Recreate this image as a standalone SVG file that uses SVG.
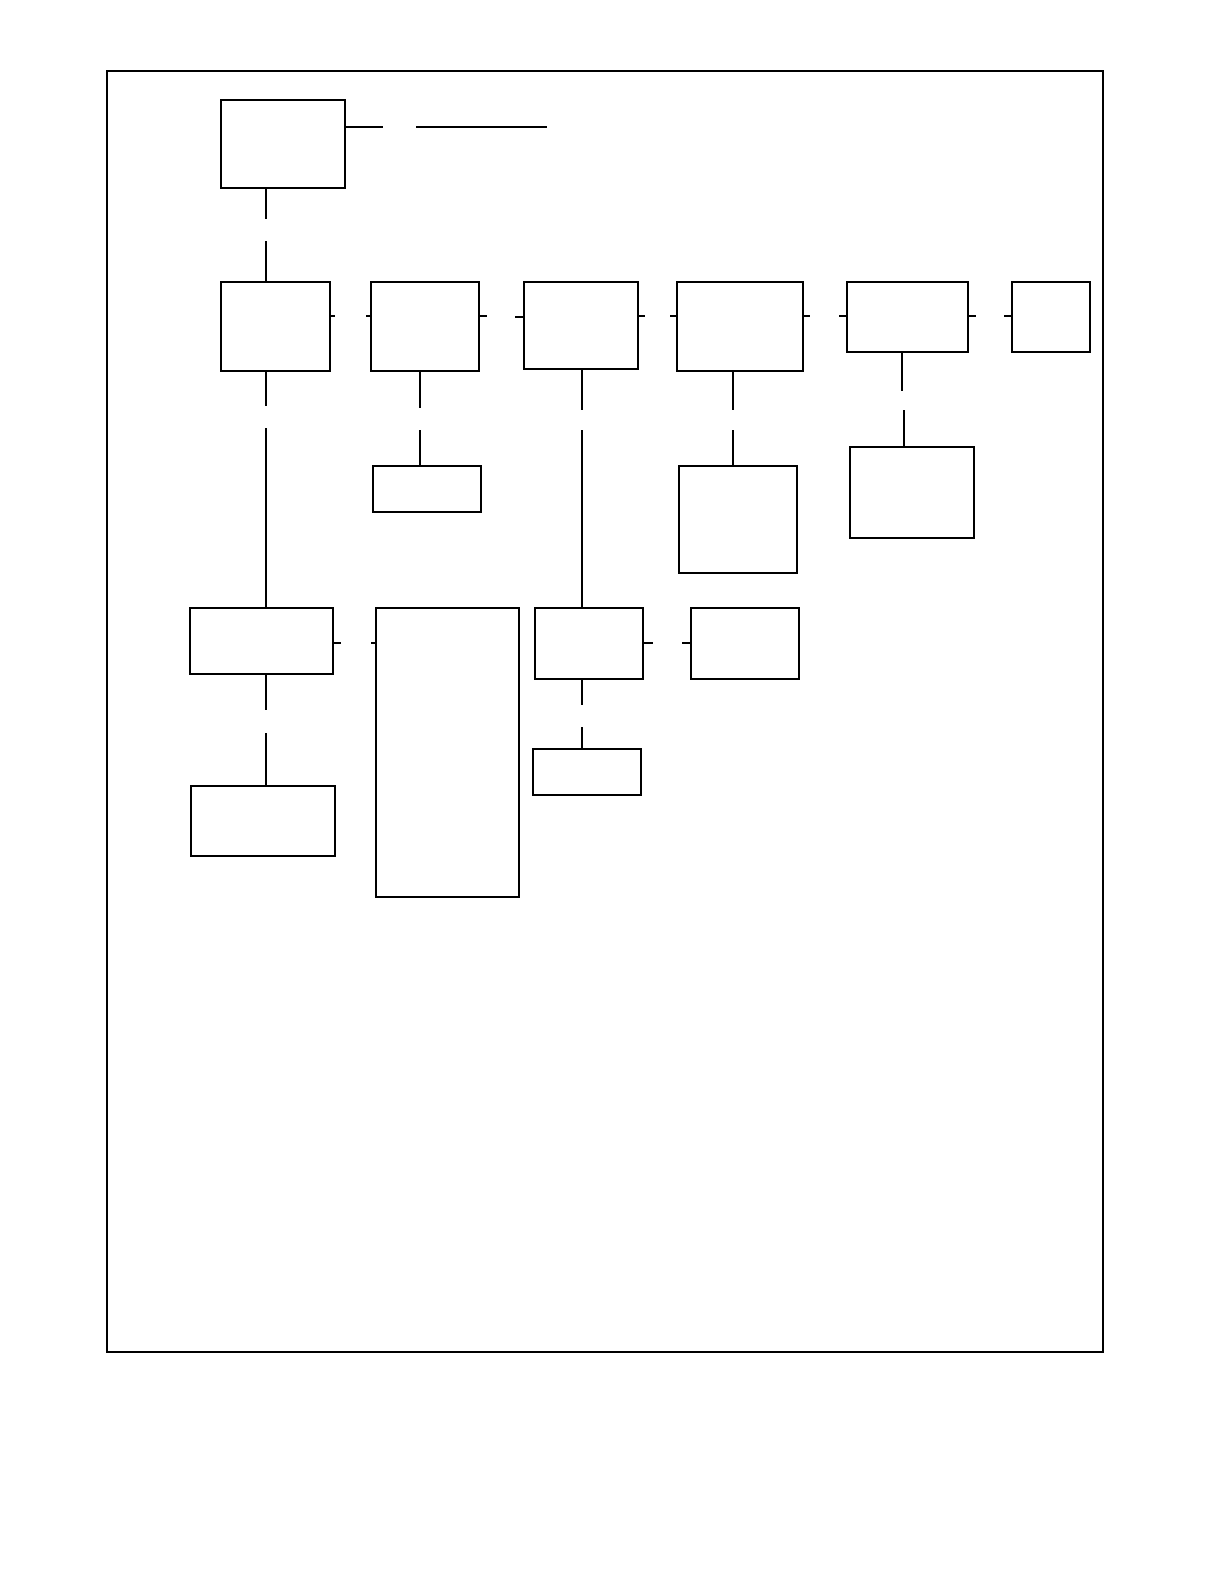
<svg xmlns="http://www.w3.org/2000/svg" width="1224" height="1584" viewBox="0 0 1224 1584">
<style>
rect{fill:none;stroke:#000;stroke-width:2}
line{stroke:#000;stroke-width:2}
</style>
<rect x="0" y="0" width="1224" height="1584" style="fill:#fff;stroke:none"/>
<rect id="frame" x="107" y="71" width="996" height="1281"/>
<g id="n-top"><rect x="221" y="100" width="124" height="88"/></g>
<g id="n-a"><rect x="221" y="282" width="109" height="89"/></g>
<g id="n-b"><rect x="371" y="282" width="108" height="89"/></g>
<g id="n-c"><rect x="524" y="282" width="114" height="87"/></g>
<g id="n-d"><rect x="677" y="282" width="126" height="89"/></g>
<g id="n-e"><rect x="847" y="282" width="121" height="70"/></g>
<g id="n-f"><rect x="1012" y="282" width="78" height="70"/></g>
<g id="n-b2"><rect x="373" y="466" width="108" height="46"/></g>
<g id="n-d2"><rect x="679" y="466" width="118" height="107"/></g>
<g id="n-e2"><rect x="850" y="447" width="124" height="91"/></g>
<g id="n-g"><rect x="190" y="608" width="143" height="66"/></g>
<g id="n-h"><rect x="376" y="608" width="143" height="289"/></g>
<g id="n-i"><rect x="535" y="608" width="108" height="71"/></g>
<g id="n-j"><rect x="691" y="608" width="108" height="71"/></g>
<g id="n-k"><rect x="191" y="786" width="144" height="70"/></g>
<g id="n-l"><rect x="533" y="749" width="108" height="46"/></g>
<g id="connectors">
<line x1="345" y1="127" x2="383" y2="127"/>
<line x1="416" y1="127" x2="547" y2="127"/>
<line x1="266" y1="188" x2="266" y2="219"/>
<line x1="266" y1="241" x2="266" y2="282"/>
<line x1="330" y1="316" x2="335" y2="316"/>
<line x1="366" y1="316" x2="371" y2="316"/>
<line x1="479" y1="316" x2="487" y2="316"/>
<line x1="515" y1="317" x2="524" y2="317"/>
<line x1="638" y1="316" x2="645" y2="316"/>
<line x1="670" y1="316" x2="677" y2="316"/>
<line x1="803" y1="316" x2="810" y2="316"/>
<line x1="839" y1="316" x2="847" y2="316"/>
<line x1="968" y1="316" x2="976" y2="316"/>
<line x1="1004" y1="316" x2="1012" y2="316"/>
<line x1="266" y1="371" x2="266" y2="406"/>
<line x1="266" y1="428" x2="266" y2="608"/>
<line x1="420" y1="371" x2="420" y2="408"/>
<line x1="420" y1="430" x2="420" y2="466"/>
<line x1="582" y1="369" x2="582" y2="410"/>
<line x1="582" y1="430" x2="582" y2="608"/>
<line x1="733" y1="371" x2="733" y2="410"/>
<line x1="733" y1="430" x2="733" y2="466"/>
<line x1="902" y1="352" x2="902" y2="391"/>
<line x1="904" y1="410" x2="904" y2="447"/>
<line x1="333" y1="643" x2="341" y2="643"/>
<line x1="371" y1="643" x2="376" y2="643"/>
<line x1="643" y1="643" x2="653" y2="643"/>
<line x1="682" y1="643" x2="691" y2="643"/>
<line x1="266" y1="674" x2="266" y2="710"/>
<line x1="266" y1="733" x2="266" y2="786"/>
<line x1="582" y1="679" x2="582" y2="705"/>
<line x1="582" y1="727" x2="582" y2="749"/>
</g>
</svg>
